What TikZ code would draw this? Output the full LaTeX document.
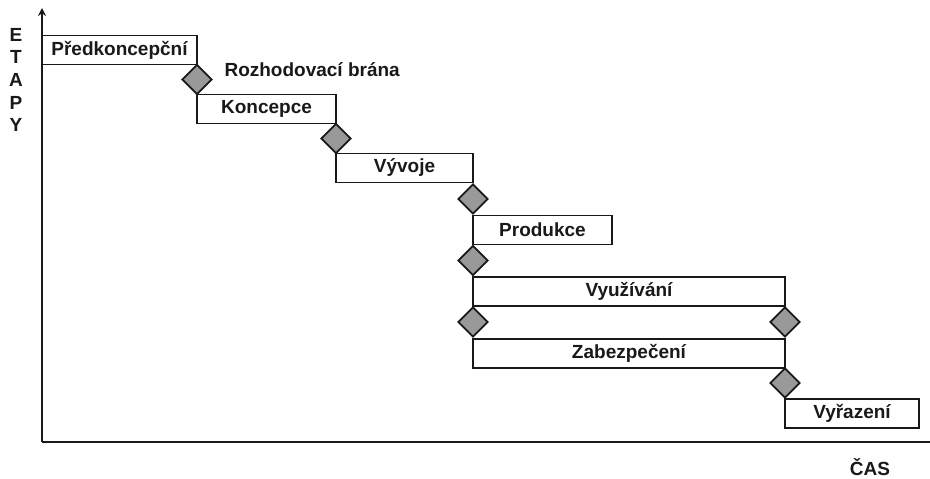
\documentclass[tikz,border=0pt]{standalone}
\usepackage{fontspec}
\setmainfont{Liberation Sans}
\usetikzlibrary{shapes.geometric,arrows.meta}
\definecolor{gatefill}{RGB}{153,153,153}
\definecolor{inkcol}{RGB}{25,25,25}
\begin{document}
\begin{tikzpicture}[x=1pt,y=-1pt,
  txt/.style={font=\bfseries\fontsize{19}{21}\selectfont, text=inkcol},
  stagebox/.style={txt, draw=inkcol, line width=1.8pt, minimum height=29pt, inner sep=0pt},
  gate/.style={diamond, draw=inkcol, fill=gatefill, line width=1.8pt, minimum width=30pt, minimum height=30pt, inner sep=0pt},
  axis/.style={draw=inkcol, line width=1.8pt}]
\useasboundingbox (0,0) rectangle (930,479);
% axes
\coordinate (o) at (42,442);
\coordinate (ytop) at (42,8);
\coordinate (xend) at (930,442);
\draw[axis, -{Stealth[length=8pt,width=8pt]}] (o) -- (ytop);
\draw[axis] (o) -- (xend);
% stages
\node[stagebox, minimum width=155pt] (pre) at (119.5,50) {Předkoncepční};
\node[stagebox, minimum width=139pt] (kon) at (266.5,109) {Koncepce};
\node[stagebox, minimum width=137pt] (vyv) at (404.5,168) {Vývoje};
\node[stagebox, minimum width=139pt] (pro) at (542.5,230) {Produkce};
\node[stagebox, minimum width=312pt] (vyu) at (629,291.5) {Využívání};
\node[stagebox, minimum width=312pt] (zab) at (629,353.5) {Zabezpečení};
\node[stagebox, minimum width=134pt] (vyr) at (852,413.5) {Vyřazení};
% gates
\node[gate] (g1) at (197,79.5) {};
\node[gate] (g2) at (336,138.5) {};
\node[gate] (g3) at (473,199) {};
\node[gate] (g4) at (473,260.5) {};
\node[gate] (g5) at (473,322) {};
\node[gate] (g6) at (785,322) {};
\node[gate] (g7) at (785,383) {};
% labels
\node[txt, anchor=west] (gatelbl) at (221,70) {Rozhodovací brána};
\node[txt, align=center, font=\bfseries\fontsize{19}{22.7}\selectfont] (etapy) at (16,80) {E\\T\\A\\P\\Y};
\node[txt, anchor=base, inner sep=0pt] (cas) at (870,475) {ČAS};
\end{tikzpicture}
\end{document}
